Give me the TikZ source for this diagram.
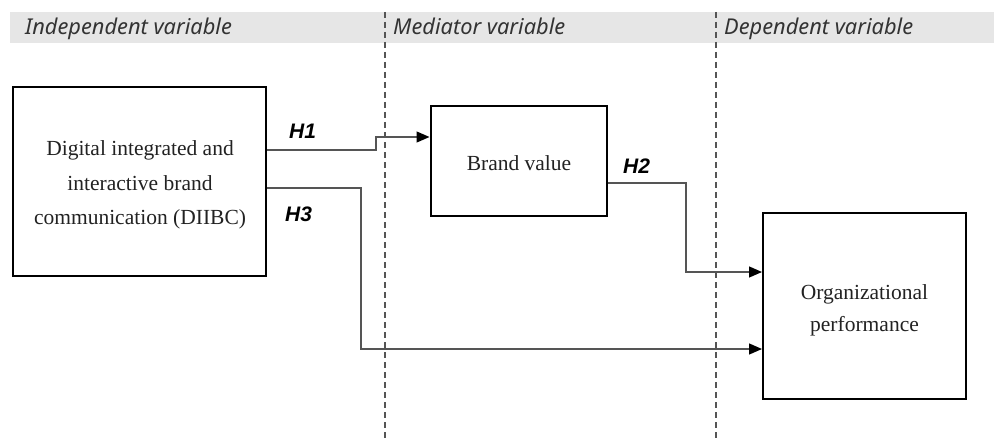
\documentclass[tikz,border=0pt]{standalone}
\usepackage{fontspec}
\setmainfont{Liberation Serif}
\newfontfamily\hdrfont{Noto Sans}
\newfontfamily\hfont{Liberation Sans}
\usetikzlibrary{arrows.meta}
\definecolor{band}{HTML}{E6E6E6}
\definecolor{hdrtxt}{HTML}{333333}
\definecolor{conncol}{HTML}{555555}
\definecolor{boxtxt}{HTML}{222222}
\tikzset{
  box/.style={draw=black, line width=2pt, fill=white, inner sep=0pt},
  boxtext/.style={align=center, inner sep=0pt, text=boxtxt, font=\fontsize{21.5}{34.5}\selectfont},
  conn/.style={draw=conncol, line width=1.3pt, -{Triangle[length=13pt,width=11pt,color=black]}},
  sep/.style={draw=conncol, line width=1.5pt, dash pattern=on 6pt off 4pt},
  hdr/.style={anchor=base west, inner sep=0pt, text=hdrtxt, font=\hdrfont\itshape\fontsize{21.8}{24}\selectfont},
  hlab/.style={anchor=base west, inner sep=0pt, font=\hfont\bfseries\itshape\fontsize{21}{24}\selectfont}
}
\begin{document}
\begin{tikzpicture}[x=1pt,y=-1pt]
\useasboundingbox (0,0) rectangle (1000,441);
\fill[band] (10,12) rectangle (994,43);
\node[hdr] (h1) at (25,35) {Independent variable};
\node[hdr] (h2) at (393,35) {Mediator variable};
\node[hdr] (h3) at (724,35) {Dependent variable};
\coordinate (d1t) at (385,12);
\coordinate (d1b) at (385,441);
\coordinate (d2t) at (716,12);
\coordinate (d2b) at (716,441);
\draw[sep] (d1t) -- (d1b);
\draw[sep] (d2t) -- (d2b);
\node[box, minimum width=253pt, minimum height=189pt] (left) at (139.5,181.5) {};
\node[boxtext] (lefttxt) at (140,185)
  {Digital integrated and\\interactive brand\\communication (DIIBC)};
\node[box, minimum width=176pt, minimum height=110pt] (brand) at (518.5,161) {};
\node[boxtext] (brandtxt) at (519,163) {Brand value};
\node[box, minimum width=203pt, minimum height=186pt] (org) at (864.5,306) {};
\node[boxtext, font=\fontsize{21.5}{32}\selectfont] (orgtxt) at (864.5,310)
  {Organizational\\performance};
\draw[conn] (left.east |- 0,150) -- (376,150) -- (376,137) -- (brand.west |- 0,137);
\draw[conn] (left.east |- 0,188) -- (361,188) -- (361,349) -- (org.west |- 0,349);
\draw[conn] (brand.east |- 0,183) -- (686,183) -- (686,272) -- (org.west |- 0,272);
\node[hlab] (l1) at (289,138) {H1};
\node[hlab] (l3) at (285,221) {H3};
\node[hlab] (l2) at (623,173) {H2};
\end{tikzpicture}
\end{document}
